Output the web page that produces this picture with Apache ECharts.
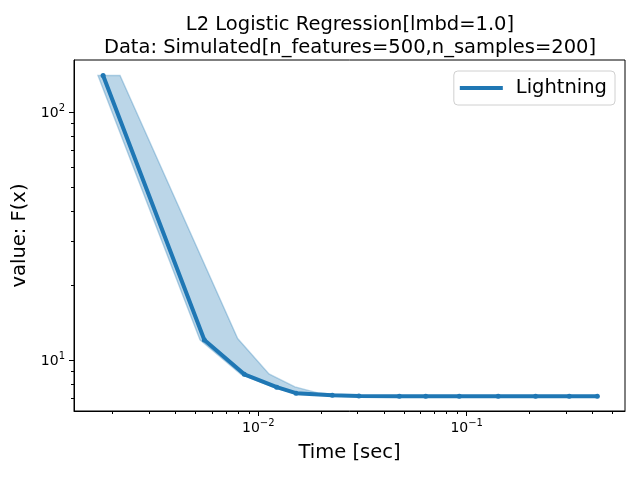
<!DOCTYPE html>
<html>
<head>
<meta charset="utf-8">
<script src="https://cdn.jsdelivr.net/npm/echarts@6/dist/echarts.min.js"></script>
<style>html,body{margin:0;padding:0;background:#fff}#c{width:640px;height:480px}</style>
</head>
<body>
<div id="c"></div>
<script>
// Mean curve (time in seconds, objective value)
const timeMean  = [0.00180, 0.00551, 0.00857, 0.01226, 0.01517, 0.02265, 0.0304, 0.0475, 0.0636, 0.0921, 0.1416, 0.2141, 0.3105, 0.4236];
const valueMean = [140.6, 12.04, 8.75, 7.76, 7.34, 7.20, 7.15, 7.14, 7.14, 7.14, 7.14, 7.14, 7.14, 7.14];
// Band edges
const bandUpperTime  = [0.00170, 0.00217, 0.00796, 0.01125, 0.0150, 0.0193, 0.0261, 0.0304];
const bandUpperValue = [140.6, 140.6, 12.2, 8.78, 7.78, 7.36, 7.20, 7.15];
const bandLowerTime  = [0.00170, 0.00525, 0.00826, 0.0118, 0.0148, 0.0222, 0.0304];
const bandLowerValue = [140.6, 12.04, 8.75, 7.76, 7.34, 7.20, 7.15];
// Ticks
const xMajorTicks = [0.01, 0.1];
const xMinorTicks = [0.002,0.003,0.004,0.005,0.006,0.007,0.008,0.009,0.02,0.03,0.04,0.05,0.06,0.07,0.08,0.09,0.2,0.3,0.4,0.5];
const yMajorTicks = [10, 100];
const yMinorTicks = [7,8,9,20,30,40,50,60,70,80,90];

const xMin = 0.001305, xMax = 0.575, yMin = 6.22, yMax = 162.5;
const FONT = 'DejaVu Sans';
const C = '#1f77b4';

function powLabel(v){
  const e = Math.round(Math.log10(v));
  const s = e < 0 ? '\u2212' + (-e) : String(e);
  return '{b|10}{s|' + s + '}';
}
const rich = {
  b: {fontSize: 14, fontFamily: FONT, color: '#000', verticalAlign: 'bottom', lineHeight: 16},
  s: {fontSize: 10, fontFamily: FONT, color: '#000', verticalAlign: 'bottom', lineHeight: 10, padding: [0,0,7,0]}
};

const lineData = timeMean.map((t,i)=>[t, valueMean[i]]);
const upper = bandUpperTime.map((t,i)=>[t, bandUpperValue[i]]);
const lower = bandLowerTime.map((t,i)=>[t, bandLowerValue[i]]);

const chart = echarts.init(document.getElementById('c'), null, {renderer:'canvas'});
const axisBase = {
  type: 'log', logBase: 10,
  splitLine: {show:false}, minorSplitLine:{show:false}
};
chart.setOption({
  animation: false,
  backgroundColor: '#fff',
  graphic: [{
    type: 'text', x: 350, y: 13, z: 10,
    style: {text: 'L2 Logistic Regression[lmbd=1.0]\nData: Simulated[n_features=500,n_samples=200]',
      align: 'center', verticalAlign: 'top', fontSize: 19.5, fontFamily: FONT, fill: '#000', lineHeight: 23}
  }],
  grid: {left: 74, right: 15, top: 60, bottom: 69, show: true, borderColor: '#000', borderWidth: 1, backgroundColor: 'transparent'},
  legend: {
    data: ['Lightning'], right: 25, top: 71, orient: 'vertical',
    padding: [7, 8, 7, 4], itemWidth: 43, itemHeight: 5, itemGap: 8,
    borderColor: '#d0d0d0', borderWidth: 1, borderRadius: 4, backgroundColor: 'rgba(255,255,255,0.8)',
    lineStyle: {width: 4, color: C},
    itemStyle: {color: C},
    textStyle: {fontSize: 19.5, fontFamily: FONT, color: '#000', padding: [0,0,0,8]}
  },
  xAxis: [
    Object.assign({}, axisBase, {
      min: xMin, max: xMax, position: 'bottom',
      name: 'Time [sec]', nameLocation: 'middle', nameGap: 32,
      nameTextStyle: {fontSize: 19.5, fontFamily: FONT, color: '#000'},
      axisLine: {show: true, lineStyle: {color: '#000', width: 1}},
      axisTick: {show: true, customValues: xMajorTicks, length: 5, lineStyle: {color: '#000', width: 1}},
      axisLabel: {customValues: xMajorTicks, formatter: powLabel, rich: rich, margin: 8, color: '#000'},
      minorTick: {show: false}
    }),
    Object.assign({}, axisBase, {
      min: xMin, max: xMax, position: 'bottom', offset: 0,
      axisLine: {show: false},
      axisTick: {show: true, customValues: xMinorTicks, length: 3, lineStyle: {color: '#000', width: 1}},
      axisLabel: {show: false}, minorTick: {show: false}
    })
  ],
  yAxis: [
    Object.assign({}, axisBase, {
      min: yMin, max: yMax, position: 'left',
      name: 'value: F(x)', nameLocation: 'middle', nameGap: 40, nameRotate: 90,
      nameTextStyle: {fontSize: 19.5, fontFamily: FONT, color: '#000'},
      axisLine: {show: true, lineStyle: {color: '#000', width: 1}},
      axisTick: {show: true, customValues: yMajorTicks, length: 5, lineStyle: {color: '#000', width: 1}},
      axisLabel: {customValues: yMajorTicks, formatter: powLabel, rich: rich, margin: 9, color: '#000'},
      minorTick: {show: false}
    }),
    Object.assign({}, axisBase, {
      min: yMin, max: yMax, position: 'left', offset: 0,
      axisLine: {show: false},
      axisTick: {show: true, customValues: yMinorTicks, length: 3, lineStyle: {color: '#000', width: 1}},
      axisLabel: {show: false}, minorTick: {show: false}
    })
  ],
  series: [
    {
      type: 'custom', name: 'band', xAxisIndex: 0, yAxisIndex: 0, z: 1, silent: true,
      data: [[0.01, 10]],
      renderItem: function(params, api){
        const pts = upper.map(p=>api.coord(p)).concat(lower.slice().reverse().map(p=>api.coord(p)));
        return {type: 'polygon', shape: {points: pts},
          style: {fill: 'rgba(31,119,180,0.3)', stroke: 'rgba(31,119,180,0.3)', lineWidth: 1.4}};
      }
    },
    {
      type: 'line', name: 'Lightning', xAxisIndex: 0, yAxisIndex: 0, z: 3,
      data: lineData, symbol: 'circle', symbolSize: 5, showSymbol: true,
      itemStyle: {color: C}, lineStyle: {color: C, width: 4}
    }
  ]
});
</script>
</body>
</html>
